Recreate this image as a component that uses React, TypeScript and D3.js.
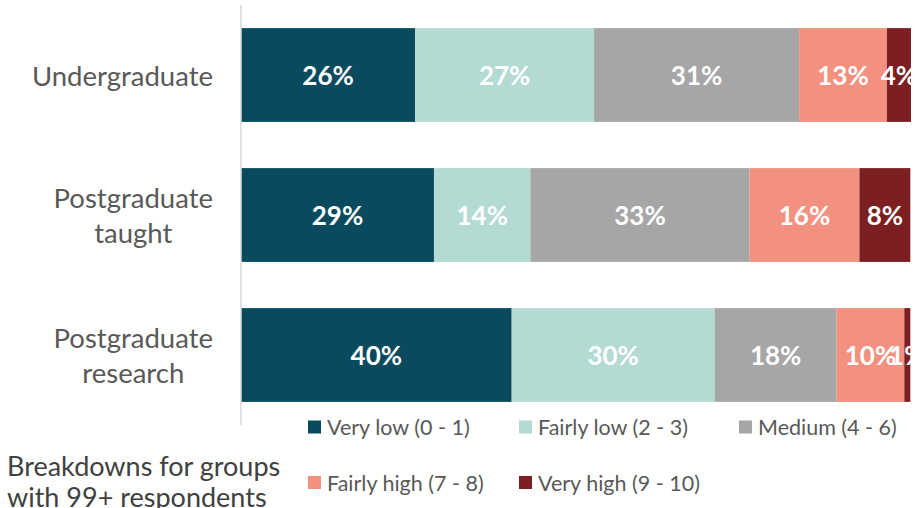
import React from "react";
import * as d3 from "d3";

const categories = ["Undergraduate", "Postgraduate taught", "Postgraduate research"];
const categoryLines = [["Undergraduate"], ["Postgraduate", "taught"], ["Postgraduate", "research"]];
const seriesNames = ["Very low (0 - 1)", "Fairly low (2 - 3)", "Medium (4 - 6)", "Fairly high (7 - 8)", "Very high (9 - 10)"];
const seriesKeys = ["veryLow", "fairlyLow", "medium", "fairlyHigh", "veryHigh"];
const veryLow = [26.0, 28.8, 40.4];
const fairlyLow = [26.7, 14.4, 30.3];
const medium = [30.6, 32.7, 18.2];
const fairlyHigh = [13.1, 16.4, 10.1];
const veryHigh = [3.6, 7.6, 0.9];
const colors = ["#0A4A5F", "#B3DAD3", "#A6A6A6", "#F2917F", "#7B1F22"];
const noteLines = ["Breakdowns for groups", "with 99+ respondents"];

const W = 922;
const H = 508;
const FONT = "Lato, 'Open Sans', sans-serif";
const CAT_SIZE = 27.5;

function measure(text: string, size: number): number {
  const c = document.createElement("canvas").getContext("2d");
  if (!c) return text.length * size * 0.5;
  c.font = `${size}px Lato, 'Open Sans', sans-serif`;
  return c.measureText(text).width;
}

export default function App() {
  const table = categories.map((c, i) => ({
    category: c,
    veryLow: veryLow[i],
    fairlyLow: fairlyLow[i],
    medium: medium[i],
    fairlyHigh: fairlyHigh[i],
    veryHigh: veryHigh[i],
  }));
  const stack = d3.stack<any>().keys(seriesKeys)(table);
  const x = d3.scaleLinear().domain([0, 100]).range([241, 911]);
  const y = d3.scaleBand().domain(categories).range([5, 425]).paddingInner(0.33).paddingOuter(0.165);

  const legendPos = [
    [308, 427],
    [519, 427],
    [739, 427],
    [308, 482.5],
    [519, 482.5],
  ];
  const labelRight = 213;

  return (
    <svg width={W} height={H} style={{ position: "absolute", left: 0, top: 0 }}>
      <defs>
        <clipPath id="plotClip">
          <rect x={241} y={0} width={670} height={430} />
        </clipPath>
      </defs>
      <rect width={W} height={H} fill="#fff" />
      {stack.map((layer, si) => (
        <g key={seriesKeys[si]}>
          {layer.map((d, i) => (
            <rect
              key={i}
              x={x(d[0])}
              y={y(categories[i])}
              width={x(d[1]) - x(d[0])}
              height={y.bandwidth()}
              fill={colors[si]}
            />
          ))}
        </g>
      ))}
      <line x1={241} x2={241} y1={5} y2={425} stroke="#D9D9D9" strokeWidth={1.5} />
      <g clipPath="url(#plotClip)">
        {stack.map((layer, si) =>
          layer.map((d, i) => (
            <text
              key={`${si}-${i}`}
              x={(x(d[0]) + x(d[1])) / 2}
              y={(y(categories[i]) as number) + y.bandwidth() / 2}
              textAnchor="middle"
              dominantBaseline="central"
              fill="#fff"
              fontFamily={FONT}
              fontWeight={700}
              fontSize={26}
            >
              {Math.round(d[1] - d[0])}%
            </text>
          ))
        )}
      </g>
      {categoryLines.map((lines, i) => {
        const cy = (y(categories[i]) as number) + y.bandwidth() / 2;
        const lh = 35;
        const start = cy - ((lines.length - 1) * lh) / 2;
        const maxW = Math.max(...lines.map((l) => measure(l, CAT_SIZE)));
        const cx = labelRight - maxW / 2;
        return (
          <text key={i} textAnchor="middle" fill="#595959" fontFamily={FONT} fontSize={CAT_SIZE}>
            {lines.map((l, j) => (
              <tspan key={j} x={cx} y={start + j * lh} dominantBaseline="central">
                {l}
              </tspan>
            ))}
          </text>
        );
      })}
      {seriesNames.map((n, i) => (
        <g key={n} transform={`translate(${legendPos[i][0]},${legendPos[i][1]})`}>
          <rect x={0} y={-6.5} width={13} height={13} fill={colors[i]} />
          <text x={19} y={0} dominantBaseline="central" fill="#595959" fontFamily={FONT} fontSize={21.5}>
            {n}
          </text>
        </g>
      ))}
      {noteLines.map((l, i) => (
        <text key={i} x={7} y={465 + i * 31} dominantBaseline="central" fill="#404040" fontFamily={FONT} fontSize={27}>
          {l}
        </text>
      ))}
    </svg>
  );
}
